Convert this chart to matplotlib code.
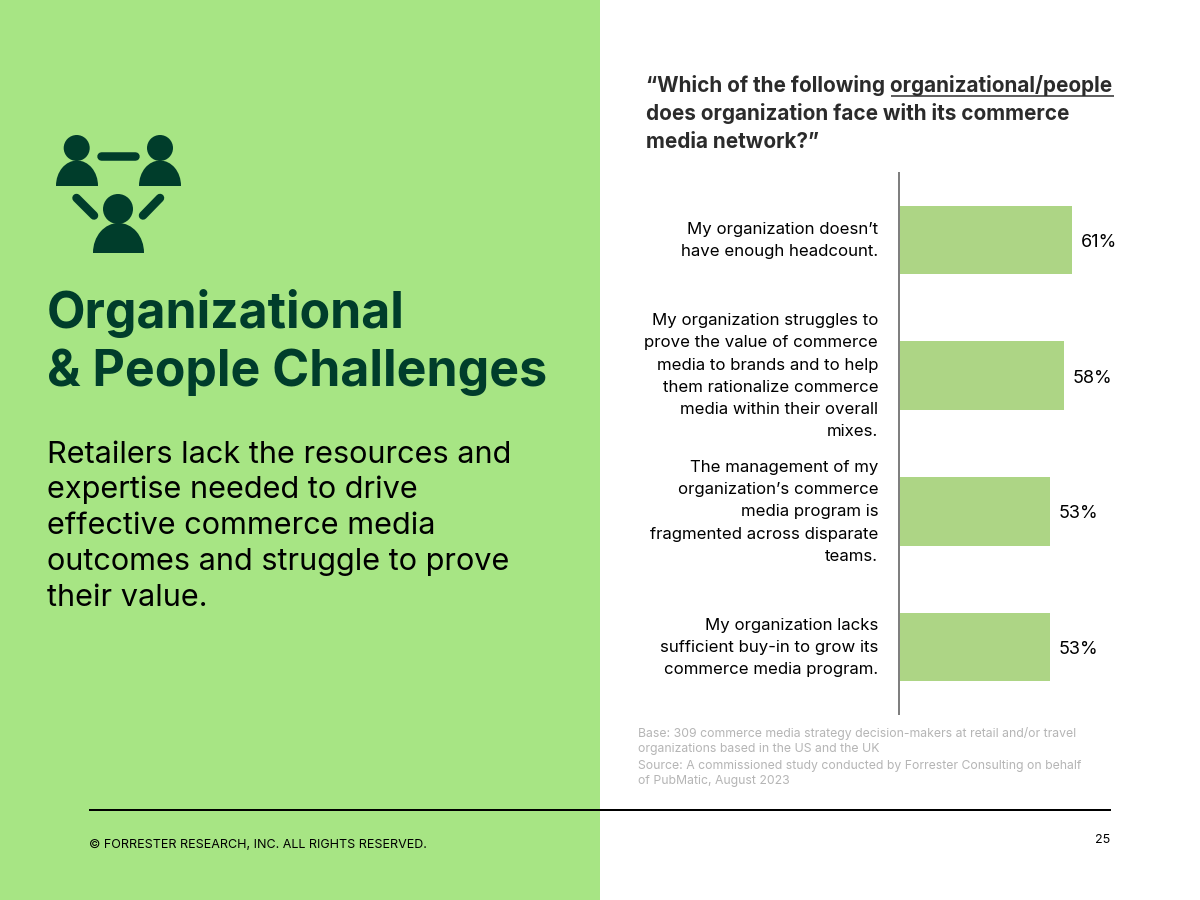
import matplotlib

matplotlib.use("Agg")
import matplotlib.pyplot as plt
from matplotlib.patches import Circle, Ellipse, Rectangle
from matplotlib.transforms import ScaledTranslation

W, H = 1200, 900
GREEN_PANEL = "#A7E584"
DARK_GREEN = "#003D2B"
BAR_GREEN = "#ADD585"

categories = [
    "My organization doesn\u2019t\nhave enough headcount.",
    "My organization struggles to\nprove the value of commerce\nmedia to brands and to help\nthem rationalize commerce\nmedia within their overall\nmixes.",
    "The management of my\norganization\u2019s commerce\nmedia program is\nfragmented across disparate\nteams.",
    "My organization lacks\nsufficient buy-in to grow its\ncommerce media program.",
]
values = [61, 58, 53, 53]
question = [
    "\u201cWhich of the following organizational/people",
    "does organization face with its commerce",
    "media network?\u201d",
]
heading = ["Organizational", "& People Challenges"]
body = [
    "Retailers lack the resources and",
    "expertise needed to drive",
    "effective commerce media",
    "outcomes and struggle to prove",
    "their value.",
]
notes = [
    "Base: 309 commerce media strategy decision-makers at retail and/or travel",
    "organizations based in the US and the UK",
    "Source: A commissioned study conducted by Forrester Consulting on behalf",
    "of PubMatic, August 2023",
]
copyright_note = "\u00a9 FORRESTER RESEARCH, INC. ALL RIGHTS RESERVED."
page_number = "25"

plt.rcParams["font.family"] = ["Inter", "DejaVu Sans"]
px = 0.72  # one pixel in points at dpi 100

fig = plt.figure(figsize=(W / 100, H / 100), dpi=100, facecolor="white")

# whole page, in pixel coordinates
page = fig.add_axes([0, 0, 1, 1])
page.set_xlim(0, W)
page.set_ylim(H, 0)
page.axis("off")
page.add_patch(Rectangle((0, 0), 600, H, color=GREEN_PANEL, lw=0))

# people icon
for cx, cy, r, left, right, base, top in (
    (76.7, 148, 13, 56, 98, 185.7, 160.5),
    (160, 148, 13, 139, 181, 185.7, 160.5),
    (118, 209, 15, 93, 144, 252.7, 223),
):
    page.add_patch(Circle((cx, cy), r, color=DARK_GREEN, lw=0))
    dome = page.add_patch(
        Ellipse(((left + right) / 2, base), right - left, 2 * (base - top), color=DARK_GREEN, lw=0)
    )
    dome.set_clip_path(
        Rectangle((left, top), right - left, base - top, transform=page.transData)
    )
for xs, ys in (
    ((101, 135), (156, 156)),
    ((76.5, 94), (198, 215.5)),
    ((160, 143), (198, 215.5)),
):
    page.plot(xs, ys, color=DARK_GREEN, lw=8.5 * px, solid_capstyle="round")

for y, line in zip((314, 372), heading):
    page.text(47, y, line, fontsize=36, fontweight="bold", color=DARK_GREEN, va="center")
for y, line in zip((455, 490, 526, 562, 598), body):
    page.text(47, y, line, fontsize=22.1, color="black", va="center")

for y, line in zip((85.5, 113.5, 141.5), question):
    page.text(646, y, line, fontsize=14.9, fontweight="bold", color="#2B2B2B", va="center")
page.plot([891, 1114], [95.5, 95.5], color="#2B2B2B", lw=1.5 * px, solid_capstyle="butt")

for y, line in zip((733, 749, 766, 781), notes):
    page.text(638, y, line, fontsize=8.8, color="#B5B5B5", va="center")

page.plot([89, 1111], [810, 810], color="black", lw=2 * px, solid_capstyle="butt")
page.text(89, 845, copyright_note, fontsize=9, color="black", va="center")
page.text(1110, 840, page_number, fontsize=9, color="black", va="center", ha="right")

# bar chart
ax = fig.add_axes([899 / W, 1 - 715 / H, 284 / W, 543 / H])
ax.patch.set_alpha(0)
bars = ax.barh(range(len(values)), values, height=0.505, color=BAR_GREEN)
ax.set_xlim(0, 100)
ax.set_ylim(3.5, -0.5)
ax.set_xticks([])
ax.set_yticks(range(len(categories)))
ax.set_yticklabels(categories, fontsize=12.1, linespacing=1.6, color="black")
ax.tick_params(axis="y", length=0, pad=15)
for label in ax.get_yticklabels():
    label.set_transform(label.get_transform() + ScaledTranslation(0, 4.5 / 100, fig.dpi_scale_trans))
for side in ("top", "right", "bottom"):
    ax.spines[side].set_visible(False)
ax.spines["left"].set_color("#7F7F7F")
ax.spines["left"].set_linewidth(2 * px)
ax.spines["left"].set_capstyle("butt")
for label in ax.bar_label(bars, labels=[f"{v}%" for v in values], padding=6.5, fontsize=13, color="black"):
    label.xyann = (6.5, -1.8)

fig.savefig("out.png", dpi=100)
